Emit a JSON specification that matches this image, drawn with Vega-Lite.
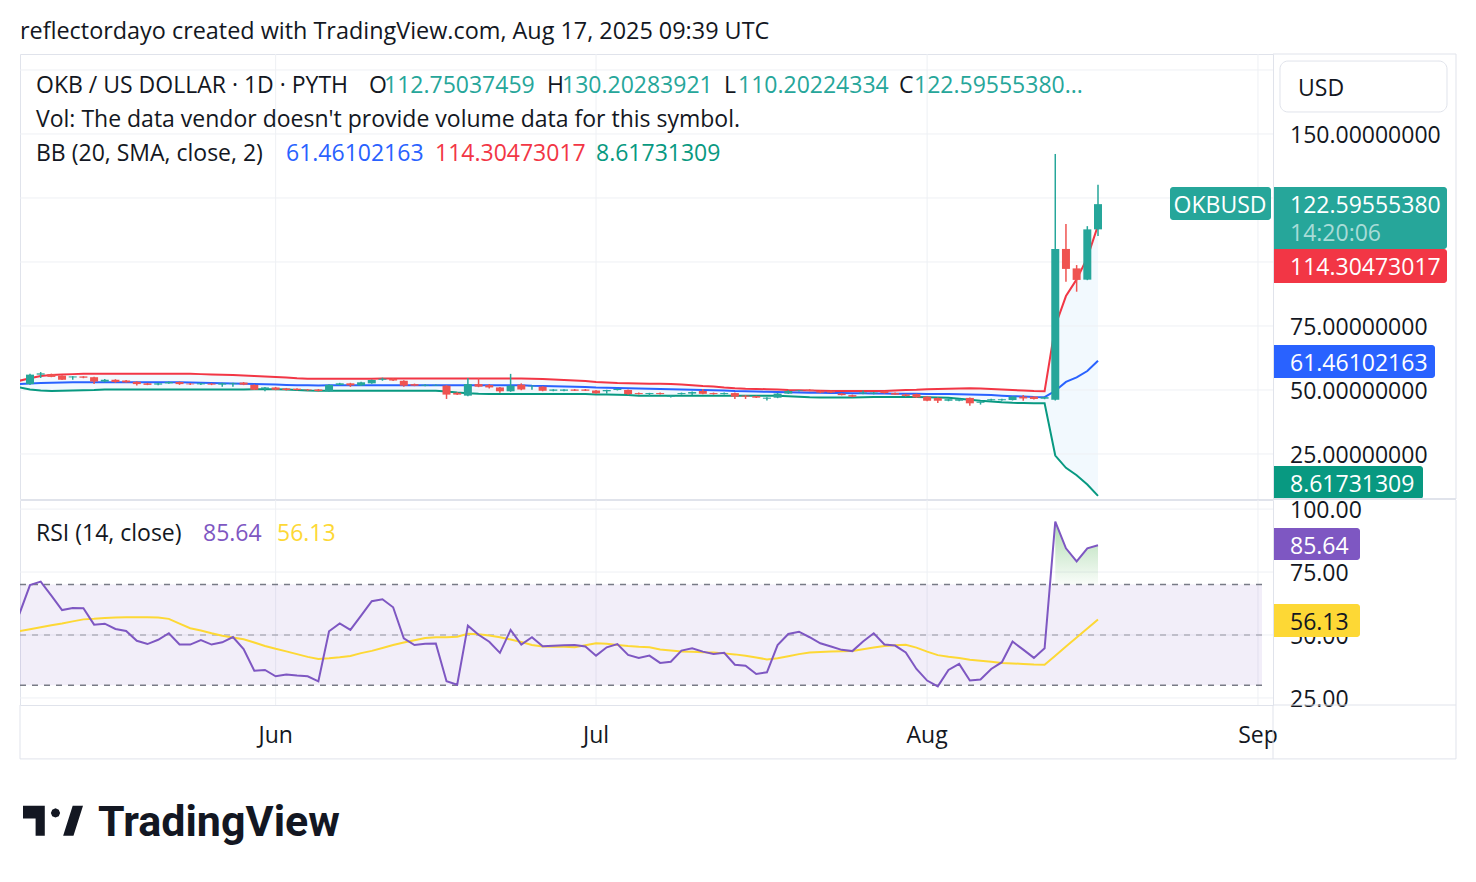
{
"$schema": "https://vega.github.io/schema/vega-lite/v6.json",
"background": "white",
"padding": {"left": 18, "top": 19, "right": 0, "bottom": 0},
"title": {"text": "reflectordayo created with TradingView.com, Aug 17, 2025 09:39 UTC", "anchor": "start", "frame": "group", "font": "Open Sans", "fontSize": 23.4, "fontWeight": "normal", "color": "#131722", "offset": 9},
"spacing": 1,
"bounds": "flush",
"config": {
  "view": {"stroke": "#e0e3eb", "strokeWidth": 1},
  "font": "Open Sans",
  "text": {"font": "Open Sans", "fontSize": 23, "dy": 2}
},
"datasets": {"d": [
{"date":"2025-05-08","up":53.6,"mid":52.3,"lo":51.0,"rsi":58.3,"ma":51.5},
{"date":"2025-05-09","o":52.3,"h":56.3,"l":52.0,"c":56.0,"up":54.6,"mid":52.5,"lo":50.2,"rsi":69.8,"ma":52.3},
{"date":"2025-05-10","o":56.0,"h":57.0,"l":54.7,"c":56.5,"up":55.5,"mid":52.7,"lo":49.8,"rsi":71.2,"ma":53.1},
{"date":"2025-05-11","o":56.2,"h":56.4,"l":55.0,"c":55.1,"up":55.9,"mid":52.8,"lo":49.6,"rsi":65.6,"ma":53.9},
{"date":"2025-05-12","o":55.6,"h":55.8,"l":53.9,"c":54.0,"up":56.1,"mid":52.9,"lo":49.7,"rsi":59.9,"ma":54.6},
{"date":"2025-05-13","o":54.9,"h":55.4,"l":54.0,"c":55.3,"up":56.2,"mid":53.0,"lo":49.8,"rsi":60.7,"ma":55.4},
{"date":"2025-05-14","o":55.3,"h":55.4,"l":54.6,"c":54.8,"up":56.3,"mid":53.0,"lo":49.9,"rsi":60.6,"ma":56.2},
{"date":"2025-05-15","o":55.0,"h":55.2,"l":52.3,"c":53.3,"up":56.3,"mid":53.0,"lo":50.0,"rsi":54.1,"ma":56.4},
{"date":"2025-05-16","o":53.3,"h":54.3,"l":53.0,"c":54.0,"up":56.3,"mid":53.0,"lo":50.2,"rsi":54.5,"ma":56.7},
{"date":"2025-05-17","o":54.0,"h":54.2,"l":52.8,"c":53.1,"up":56.3,"mid":53.0,"lo":50.2,"rsi":52.4,"ma":56.9},
{"date":"2025-05-18","o":53.7,"h":53.9,"l":52.8,"c":53.0,"up":56.3,"mid":53.0,"lo":50.2,"rsi":51.6,"ma":57.0},
{"date":"2025-05-19","o":53.2,"h":53.4,"l":51.8,"c":52.3,"up":56.3,"mid":53.0,"lo":50.2,"rsi":47.7,"ma":57.0},
{"date":"2025-05-20","o":52.6,"h":52.8,"l":51.9,"c":52.0,"up":56.3,"mid":53.0,"lo":50.2,"rsi":46.4,"ma":57.0},
{"date":"2025-05-21","o":52.1,"h":52.8,"l":51.9,"c":52.6,"up":56.3,"mid":53.0,"lo":50.2,"rsi":48.1,"ma":56.9},
{"date":"2025-05-22","o":52.6,"h":53.3,"l":52.4,"c":53.1,"up":56.3,"mid":53.0,"lo":50.2,"rsi":50.7,"ma":56.4},
{"date":"2025-05-23","o":53.1,"h":53.3,"l":52.0,"c":52.3,"up":56.3,"mid":53.0,"lo":50.2,"rsi":46.2,"ma":54.5},
{"date":"2025-05-24","o":52.5,"h":52.7,"l":52.0,"c":52.2,"up":56.3,"mid":52.9,"lo":50.2,"rsi":46.2,"ma":52.7},
{"date":"2025-05-25","o":52.2,"h":52.8,"l":52.0,"c":52.6,"up":56.2,"mid":52.8,"lo":50.2,"rsi":48.0,"ma":51.8},
{"date":"2025-05-26","o":52.5,"h":52.7,"l":51.9,"c":52.1,"up":56.1,"mid":52.7,"lo":50.2,"rsi":46.2,"ma":50.7},
{"date":"2025-05-27","o":52.1,"h":52.8,"l":51.3,"c":52.6,"up":56.0,"mid":52.6,"lo":50.2,"rsi":47.1,"ma":49.7},
{"date":"2025-05-28","o":52.3,"h":52.8,"l":51.3,"c":52.6,"up":55.9,"mid":52.5,"lo":50.2,"rsi":49.2,"ma":49.0},
{"date":"2025-05-29","o":52.9,"h":53.1,"l":51.9,"c":52.1,"up":55.7,"mid":52.4,"lo":50.2,"rsi":44.4,"ma":48.3},
{"date":"2025-05-30","o":52.0,"h":52.2,"l":50.0,"c":50.1,"up":55.5,"mid":52.3,"lo":50.3,"rsi":35.8,"ma":47.0},
{"date":"2025-05-31","o":50.4,"h":51.2,"l":49.5,"c":51.0,"up":55.3,"mid":52.2,"lo":50.3,"rsi":36.1,"ma":45.6},
{"date":"2025-06-01","o":51.0,"h":51.2,"l":49.9,"c":50.1,"up":55.1,"mid":52.1,"lo":50.3,"rsi":33.6,"ma":44.5},
{"date":"2025-06-02","o":50.6,"h":50.8,"l":49.8,"c":50.0,"up":54.9,"mid":52.0,"lo":50.2,"rsi":34.3,"ma":43.5},
{"date":"2025-06-03","o":50.5,"h":50.7,"l":49.8,"c":50.0,"up":54.6,"mid":51.9,"lo":50.0,"rsi":33.9,"ma":42.4},
{"date":"2025-06-04","o":50.2,"h":50.4,"l":49.7,"c":49.9,"up":54.4,"mid":51.9,"lo":49.8,"rsi":33.6,"ma":41.3},
{"date":"2025-06-05","o":50.2,"h":50.4,"l":49.4,"c":49.6,"up":54.4,"mid":51.8,"lo":49.7,"rsi":31.6,"ma":40.5},
{"date":"2025-06-06","o":49.5,"h":52.2,"l":49.3,"c":52.0,"up":54.4,"mid":51.9,"lo":49.7,"rsi":51.5,"ma":40.8},
{"date":"2025-06-07","o":52.0,"h":52.8,"l":51.8,"c":52.6,"up":54.4,"mid":51.9,"lo":49.7,"rsi":54.6,"ma":41.2},
{"date":"2025-06-08","o":52.6,"h":52.8,"l":51.2,"c":51.8,"up":54.4,"mid":51.9,"lo":49.7,"rsi":52.0,"ma":41.7},
{"date":"2025-06-09","o":51.8,"h":53.2,"l":51.6,"c":53.0,"up":54.4,"mid":51.9,"lo":49.7,"rsi":57.7,"ma":42.8},
{"date":"2025-06-10","o":52.6,"h":54.1,"l":52.4,"c":53.9,"up":54.4,"mid":51.9,"lo":49.7,"rsi":63.4,"ma":43.7},
{"date":"2025-06-11","o":54.0,"h":54.8,"l":53.6,"c":54.4,"up":54.5,"mid":51.9,"lo":49.7,"rsi":64.2,"ma":44.8},
{"date":"2025-06-12","o":54.4,"h":54.6,"l":53.5,"c":53.7,"up":54.5,"mid":51.9,"lo":49.7,"rsi":61.0,"ma":46.0},
{"date":"2025-06-13","o":53.6,"h":53.8,"l":51.3,"c":51.7,"up":54.5,"mid":51.9,"lo":49.7,"rsi":48.7,"ma":47.0},
{"date":"2025-06-14","o":52.3,"h":52.5,"l":51.5,"c":51.7,"up":54.5,"mid":51.9,"lo":49.7,"rsi":46.0,"ma":47.9},
{"date":"2025-06-15","o":51.7,"h":52.2,"l":51.5,"c":52.0,"up":54.5,"mid":51.9,"lo":49.7,"rsi":46.5,"ma":48.8},
{"date":"2025-06-16","o":51.8,"h":52.1,"l":51.6,"c":52.0,"up":54.5,"mid":51.9,"lo":49.7,"rsi":46.6,"ma":49.1},
{"date":"2025-06-17","o":51.7,"h":51.9,"l":46.5,"c":48.2,"up":54.5,"mid":51.9,"lo":49.4,"rsi":31.6,"ma":49.1},
{"date":"2025-06-18","o":48.9,"h":49.1,"l":48.0,"c":48.2,"up":54.5,"mid":51.9,"lo":49.0,"rsi":30.3,"ma":49.3},
{"date":"2025-06-19","o":47.8,"h":54.7,"l":47.6,"c":52.3,"up":54.5,"mid":51.9,"lo":48.7,"rsi":53.7,"ma":50.5},
{"date":"2025-06-20","o":52.3,"h":54.7,"l":51.1,"c":51.3,"up":54.5,"mid":51.9,"lo":48.5,"rsi":50.1,"ma":50.3},
{"date":"2025-06-21","o":51.9,"h":52.3,"l":50.6,"c":51.0,"up":54.5,"mid":51.9,"lo":48.4,"rsi":47.3,"ma":49.8},
{"date":"2025-06-22","o":51.0,"h":51.2,"l":48.9,"c":49.5,"up":54.5,"mid":51.9,"lo":48.4,"rsi":42.9,"ma":49.1},
{"date":"2025-06-23","o":49.5,"h":56.3,"l":49.3,"c":51.7,"up":54.5,"mid":51.9,"lo":48.4,"rsi":52.0,"ma":48.2},
{"date":"2025-06-24","o":52.1,"h":52.6,"l":49.9,"c":50.2,"up":54.5,"mid":51.9,"lo":48.4,"rsi":46.2,"ma":47.2},
{"date":"2025-06-25","o":51.5,"h":51.8,"l":50.1,"c":51.7,"up":54.4,"mid":51.7,"lo":48.4,"rsi":49.1,"ma":46.0},
{"date":"2025-06-26","o":51.3,"h":51.5,"l":49.5,"c":49.7,"up":54.3,"mid":51.6,"lo":48.4,"rsi":45.5,"ma":45.4},
{"date":"2025-06-27","o":49.7,"h":50.3,"l":49.5,"c":50.2,"up":54.1,"mid":51.5,"lo":48.4,"rsi":45.7,"ma":45.3},
{"date":"2025-06-28","o":49.7,"h":50.3,"l":49.5,"c":50.2,"up":53.9,"mid":51.4,"lo":48.4,"rsi":45.9,"ma":45.3},
{"date":"2025-06-29","o":50.2,"h":50.4,"l":49.6,"c":49.7,"up":53.7,"mid":51.3,"lo":48.4,"rsi":46.0,"ma":45.1},
{"date":"2025-06-30","o":50.2,"h":50.4,"l":49.6,"c":49.7,"up":53.5,"mid":51.2,"lo":48.4,"rsi":45.4,"ma":45.9},
{"date":"2025-07-01","o":49.8,"h":50.0,"l":48.5,"c":48.7,"up":53.1,"mid":51.0,"lo":48.2,"rsi":41.8,"ma":46.7},
{"date":"2025-07-02","o":49.5,"h":50.1,"l":48.6,"c":50.0,"up":52.9,"mid":50.9,"lo":48.2,"rsi":45.1,"ma":46.5},
{"date":"2025-07-03","o":50.0,"h":50.6,"l":49.8,"c":50.4,"up":52.7,"mid":50.8,"lo":48.1,"rsi":46.4,"ma":46.0},
{"date":"2025-07-04","o":50.0,"h":50.2,"l":48.1,"c":48.4,"up":52.6,"mid":50.7,"lo":48.0,"rsi":42.1,"ma":45.6},
{"date":"2025-07-05","o":48.8,"h":49.0,"l":48.2,"c":48.4,"up":52.5,"mid":50.6,"lo":47.8,"rsi":40.9,"ma":45.3},
{"date":"2025-07-06","o":48.4,"h":48.9,"l":47.6,"c":48.8,"up":52.4,"mid":50.5,"lo":47.8,"rsi":41.8,"ma":45.1},
{"date":"2025-07-07","o":48.8,"h":49.0,"l":48.2,"c":48.4,"up":52.4,"mid":50.4,"lo":47.8,"rsi":38.9,"ma":44.2},
{"date":"2025-07-08","o":47.3,"h":47.9,"l":47.1,"c":47.8,"up":52.3,"mid":50.3,"lo":47.8,"rsi":39.4,"ma":43.8},
{"date":"2025-07-09","o":48.4,"h":49.0,"l":48.2,"c":48.8,"up":52.1,"mid":50.2,"lo":47.8,"rsi":43.8,"ma":43.4},
{"date":"2025-07-10","o":48.6,"h":49.4,"l":48.0,"c":49.2,"up":51.9,"mid":50.1,"lo":47.8,"rsi":44.7,"ma":43.3},
{"date":"2025-07-11","o":49.6,"h":50.4,"l":48.3,"c":48.5,"up":51.6,"mid":50.0,"lo":47.8,"rsi":43.4,"ma":43.1},
{"date":"2025-07-12","o":48.8,"h":49.0,"l":48.2,"c":48.4,"up":51.4,"mid":49.9,"lo":47.8,"rsi":42.5,"ma":43.0},
{"date":"2025-07-13","o":48.4,"h":49.0,"l":48.2,"c":48.8,"up":51.0,"mid":49.8,"lo":47.8,"rsi":42.9,"ma":42.7},
{"date":"2025-07-14","o":48.8,"h":49.0,"l":46.5,"c":47.4,"up":50.7,"mid":49.6,"lo":47.8,"rsi":38.2,"ma":42.3},
{"date":"2025-07-15","o":47.8,"h":48.0,"l":46.5,"c":47.4,"up":50.5,"mid":49.5,"lo":47.8,"rsi":37.8,"ma":41.8},
{"date":"2025-07-16","o":47.6,"h":47.8,"l":46.9,"c":47.0,"up":50.4,"mid":49.4,"lo":47.8,"rsi":34.5,"ma":41.1},
{"date":"2025-07-17","o":46.6,"h":47.2,"l":45.9,"c":47.0,"up":50.3,"mid":49.3,"lo":47.8,"rsi":35.2,"ma":40.3},
{"date":"2025-07-18","o":47.0,"h":48.8,"l":46.8,"c":48.6,"up":50.2,"mid":49.2,"lo":47.8,"rsi":46.0,"ma":40.8},
{"date":"2025-07-19","o":48.6,"h":49.9,"l":48.5,"c":49.6,"up":50.0,"mid":49.1,"lo":47.6,"rsi":50.4,"ma":41.6},
{"date":"2025-07-20","o":49.6,"h":50.0,"l":49.4,"c":49.8,"up":49.9,"mid":49.0,"lo":47.4,"rsi":51.3,"ma":42.4},
{"date":"2025-07-21","o":50.1,"h":50.3,"l":49.5,"c":49.6,"up":49.8,"mid":48.9,"lo":47.2,"rsi":49.1,"ma":43.0},
{"date":"2025-07-22","o":49.6,"h":49.8,"l":48.8,"c":49.0,"up":49.7,"mid":48.9,"lo":47.1,"rsi":46.7,"ma":43.2},
{"date":"2025-07-23","o":49.6,"h":49.8,"l":48.8,"c":49.0,"up":49.6,"mid":48.8,"lo":47.1,"rsi":45.4,"ma":43.4},
{"date":"2025-07-24","o":48.6,"h":48.8,"l":47.9,"c":48.0,"up":49.6,"mid":48.8,"lo":47.1,"rsi":44.1,"ma":43.5},
{"date":"2025-07-25","o":48.0,"h":48.2,"l":47.2,"c":47.4,"up":49.6,"mid":48.7,"lo":47.1,"rsi":43.6,"ma":43.6},
{"date":"2025-07-26","o":48.6,"h":49.8,"l":48.3,"c":49.0,"up":49.6,"mid":48.7,"lo":47.2,"rsi":47.4,"ma":44.3},
{"date":"2025-07-27","o":48.6,"h":49.2,"l":48.3,"c":49.0,"up":49.6,"mid":48.6,"lo":47.3,"rsi":50.7,"ma":45.0},
{"date":"2025-07-28","o":49.5,"h":49.7,"l":48.6,"c":48.8,"up":49.6,"mid":48.6,"lo":47.3,"rsi":46.2,"ma":45.6},
{"date":"2025-07-29","o":48.8,"h":49.0,"l":48.0,"c":48.2,"up":49.8,"mid":48.5,"lo":47.3,"rsi":45.8,"ma":45.9},
{"date":"2025-07-30","o":48.3,"h":48.5,"l":47.5,"c":47.7,"up":50.0,"mid":48.5,"lo":47.3,"rsi":43.1,"ma":46.1},
{"date":"2025-07-31","o":48.4,"h":48.6,"l":46.9,"c":47.1,"up":50.1,"mid":48.5,"lo":47.3,"rsi":36.5,"ma":45.0},
{"date":"2025-08-01","o":47.4,"h":47.6,"l":45.6,"c":45.8,"up":50.3,"mid":48.4,"lo":47.2,"rsi":31.9,"ma":43.4},
{"date":"2025-08-02","o":46.9,"h":47.1,"l":44.9,"c":45.8,"up":50.4,"mid":48.4,"lo":47.1,"rsi":29.6,"ma":42.0},
{"date":"2025-08-03","o":45.8,"h":46.6,"l":45.6,"c":46.4,"up":50.5,"mid":48.4,"lo":47.0,"rsi":36.1,"ma":41.4},
{"date":"2025-08-04","o":45.8,"h":46.6,"l":45.6,"c":46.4,"up":50.6,"mid":48.3,"lo":46.6,"rsi":38.5,"ma":40.9},
{"date":"2025-08-05","o":46.9,"h":47.1,"l":43.8,"c":44.8,"up":50.7,"mid":48.2,"lo":46.2,"rsi":31.9,"ma":40.2},
{"date":"2025-08-06","o":45.0,"h":45.5,"l":44.3,"c":45.4,"up":50.6,"mid":48.1,"lo":45.8,"rsi":32.3,"ma":39.8},
{"date":"2025-08-07","o":46.0,"h":46.6,"l":45.8,"c":46.4,"up":50.4,"mid":48.0,"lo":45.5,"rsi":36.5,"ma":39.4},
{"date":"2025-08-08","o":46.0,"h":46.6,"l":45.8,"c":46.4,"up":50.2,"mid":47.8,"lo":45.2,"rsi":39.2,"ma":38.9},
{"date":"2025-08-09","o":46.1,"h":47.6,"l":45.9,"c":47.4,"up":50.0,"mid":47.6,"lo":45.0,"rsi":47.4,"ma":38.7},
{"date":"2025-08-10","o":47.4,"h":48.0,"l":45.8,"c":46.7,"up":49.8,"mid":47.5,"lo":44.9,"rsi":44.2,"ma":38.5},
{"date":"2025-08-11","o":47.4,"h":47.6,"l":46.3,"c":46.5,"up":49.6,"mid":47.3,"lo":44.8,"rsi":40.9,"ma":38.3},
{"date":"2025-08-12","o":46.6,"h":47.4,"l":46.4,"c":47.2,"up":49.5,"mid":47.2,"lo":44.8,"rsi":44.7,"ma":38.2},
{"date":"2025-08-13","o":46.2,"h":142.2,"l":45.9,"c":105.1,"up":75.0,"mid":49.7,"lo":24.4,"rsi":95.0,"ma":41.8},
{"date":"2025-08-14","o":105.1,"h":114.8,"l":92.3,"c":97.3,"up":86.7,"mid":53.15,"lo":19.6,"rsi":84.4,"ma":45.4},
{"date":"2025-08-15","o":97.5,"h":98.8,"l":88.4,"c":93.0,"up":93.2,"mid":54.95,"lo":16.7,"rsi":79.2,"ma":49.0},
{"date":"2025-08-16","o":93.1,"h":114.0,"l":92.9,"c":112.75,"up":101.7,"mid":57.4,"lo":13.1,"rsi":84.4,"ma":52.6},
{"date":"2025-08-17","o":112.75,"h":130.2,"l":110.2,"c":122.6,"up":114.3,"mid":61.46,"lo":8.617,"rsi":85.64,"ma":56.13}
]},
"vconcat": [
{
  "width": 1253, "height": 445,
  "data": {"name": "d"},
  "layer": [
    {"mark": {"type": "area", "color": "#2196f3", "opacity": 0.06, "clip": true},
     "encoding": {
       "x": {"field": "date", "type": "temporal", "scale": {"type": "utc", "padding": 0, "domain": [{"year":2025,"month":5,"date":8,"hours":1,"minutes":31,"utc":true},{"year":2025,"month":9,"date":2,"hours":9,"minutes":16,"utc":true}]}, "axis": null},
       "y": {"field": "up", "type": "quantitative", "scale": {"domain": [7.42, 181.25], "nice": false, "zero": false, "padding": 0}, "axis": null},
       "y2": {"field": "lo"}}},
    {"data": {"values": [{"v": 25}, {"v": 50}, {"v": 75}, {"v": 100}, {"v": 125}, {"v": 150}, {"v": 175}]},
     "mark": {"type": "rule", "color": "#eef0f4", "strokeWidth": 1},
     "encoding": {"y": {"field": "v", "type": "quantitative", "axis": null}}},
    {"transform": [{"filter": "utcdate(datum.date) == 1 && utcmonth(datum.date) >= 5"}],
     "mark": {"type": "rule", "color": "#eef0f4", "strokeWidth": 1},
     "encoding": {"x": {"field": "date", "type": "temporal", "axis": null}}},
    {"transform": [{"filter": "utcmonth(datum.date) == 7 && utcdate(datum.date) == 17"}],
     "mark": {"type": "rule", "color": "#eef0f4", "strokeWidth": 1, "xOffset": 160},
     "encoding": {"x": {"field": "date", "type": "temporal", "axis": null}}},
    {"mark": {"type": "line", "color": "#f23645", "strokeWidth": 2, "clip": true}, "encoding": {"x": {"field": "date", "type": "temporal", "axis": null}, "y": {"field": "up", "type": "quantitative", "axis": null}}},
    {"mark": {"type": "line", "color": "#2962ff", "strokeWidth": 2, "clip": true}, "encoding": {"x": {"field": "date", "type": "temporal", "axis": null}, "y": {"field": "mid", "type": "quantitative", "axis": null}}},
    {"mark": {"type": "line", "color": "#089981", "strokeWidth": 2, "clip": true}, "encoding": {"x": {"field": "date", "type": "temporal", "axis": null}, "y": {"field": "lo", "type": "quantitative", "axis": null}}},
    {"transform": [{"filter": "isValid(datum.o)"}],
     "mark": {"type": "rule", "strokeWidth": 1.5, "clip": true},
     "encoding": {"x": {"field": "date", "type": "temporal", "axis": null}, "y": {"field": "l", "type": "quantitative", "axis": null}, "y2": {"field": "h"}, "color": {"condition": {"test": "datum.c >= datum.o", "value": "#26a69a"}, "value": "#ef5350"}}},
    {"transform": [{"filter": "isValid(datum.o)"}],
     "mark": {"type": "bar", "width": 8, "clip": true},
     "encoding": {"x": {"field": "date", "type": "temporal", "axis": null}, "y": {"field": "o", "type": "quantitative", "axis": null}, "y2": {"field": "c"}, "color": {"condition": {"test": "datum.c >= datum.o", "value": "#26a69a"}, "value": "#ef5350"}}},

    {"transform": [{"filter": "utcmonth(datum.date) == 4 && utcdate(datum.date) == 9"}],
     "mark": {"type": "text", "text": "OKB / US DOLLAR · 1D · PYTH", "dx": 6, "align": "left", "baseline": "middle", "color": "#131722"},
     "encoding": {"x": {"field": "date", "type": "temporal", "axis": null}, "y": {"datum": 169.5, "type": "quantitative", "axis": null}}},
    {"transform": [{"filter": "utcmonth(datum.date) == 4 && utcdate(datum.date) == 9"}],
     "mark": {"type": "text", "text": "O", "dx": 339, "align": "left", "baseline": "middle", "color": "#131722"},
     "encoding": {"x": {"field": "date", "type": "temporal", "axis": null}, "y": {"datum": 169.5, "type": "quantitative", "axis": null}}},
    {"transform": [{"filter": "utcmonth(datum.date) == 4 && utcdate(datum.date) == 9"}],
     "mark": {"type": "text", "text": "112.75037459", "dx": 354, "align": "left", "baseline": "middle", "color": "#26a69a"},
     "encoding": {"x": {"field": "date", "type": "temporal", "axis": null}, "y": {"datum": 169.5, "type": "quantitative", "axis": null}}},
    {"transform": [{"filter": "utcmonth(datum.date) == 4 && utcdate(datum.date) == 9"}],
     "mark": {"type": "text", "text": "H", "dx": 517, "align": "left", "baseline": "middle", "color": "#131722"},
     "encoding": {"x": {"field": "date", "type": "temporal", "axis": null}, "y": {"datum": 169.5, "type": "quantitative", "axis": null}}},
    {"transform": [{"filter": "utcmonth(datum.date) == 4 && utcdate(datum.date) == 9"}],
     "mark": {"type": "text", "text": "130.20283921", "dx": 532, "align": "left", "baseline": "middle", "color": "#26a69a"},
     "encoding": {"x": {"field": "date", "type": "temporal", "axis": null}, "y": {"datum": 169.5, "type": "quantitative", "axis": null}}},
    {"transform": [{"filter": "utcmonth(datum.date) == 4 && utcdate(datum.date) == 9"}],
     "mark": {"type": "text", "text": "L", "dx": 694, "align": "left", "baseline": "middle", "color": "#131722"},
     "encoding": {"x": {"field": "date", "type": "temporal", "axis": null}, "y": {"datum": 169.5, "type": "quantitative", "axis": null}}},
    {"transform": [{"filter": "utcmonth(datum.date) == 4 && utcdate(datum.date) == 9"}],
     "mark": {"type": "text", "text": "110.20224334", "dx": 708, "align": "left", "baseline": "middle", "color": "#26a69a"},
     "encoding": {"x": {"field": "date", "type": "temporal", "axis": null}, "y": {"datum": 169.5, "type": "quantitative", "axis": null}}},
    {"transform": [{"filter": "utcmonth(datum.date) == 4 && utcdate(datum.date) == 9"}],
     "mark": {"type": "text", "text": "C", "dx": 869, "align": "left", "baseline": "middle", "color": "#131722"},
     "encoding": {"x": {"field": "date", "type": "temporal", "axis": null}, "y": {"datum": 169.5, "type": "quantitative", "axis": null}}},
    {"transform": [{"filter": "utcmonth(datum.date) == 4 && utcdate(datum.date) == 9"}],
     "mark": {"type": "text", "text": "122.59555380...", "dx": 884, "align": "left", "baseline": "middle", "color": "#26a69a"},
     "encoding": {"x": {"field": "date", "type": "temporal", "axis": null}, "y": {"datum": 169.5, "type": "quantitative", "axis": null}}},
    {"transform": [{"filter": "utcmonth(datum.date) == 4 && utcdate(datum.date) == 9"}],
     "mark": {"type": "text", "text": "Vol: The data vendor doesn't provide volume data for this symbol.", "dx": 6, "align": "left", "baseline": "middle", "color": "#131722"},
     "encoding": {"x": {"field": "date", "type": "temporal", "axis": null}, "y": {"datum": 156.25, "type": "quantitative", "axis": null}}},
    {"transform": [{"filter": "utcmonth(datum.date) == 4 && utcdate(datum.date) == 9"}],
     "mark": {"type": "text", "text": "BB (20, SMA, close, 2)", "dx": 6, "align": "left", "baseline": "middle", "color": "#131722"},
     "encoding": {"x": {"field": "date", "type": "temporal", "axis": null}, "y": {"datum": 142.97, "type": "quantitative", "axis": null}}},
    {"transform": [{"filter": "utcmonth(datum.date) == 4 && utcdate(datum.date) == 9"}],
     "mark": {"type": "text", "text": "61.46102163", "dx": 256, "align": "left", "baseline": "middle", "color": "#2962ff"},
     "encoding": {"x": {"field": "date", "type": "temporal", "axis": null}, "y": {"datum": 142.97, "type": "quantitative", "axis": null}}},
    {"transform": [{"filter": "utcmonth(datum.date) == 4 && utcdate(datum.date) == 9"}],
     "mark": {"type": "text", "text": "114.30473017", "dx": 405, "align": "left", "baseline": "middle", "color": "#f23645"},
     "encoding": {"x": {"field": "date", "type": "temporal", "axis": null}, "y": {"datum": 142.97, "type": "quantitative", "axis": null}}},
    {"transform": [{"filter": "utcmonth(datum.date) == 4 && utcdate(datum.date) == 9"}],
     "mark": {"type": "text", "text": "8.61731309", "dx": 566, "align": "left", "baseline": "middle", "color": "#089981"},
     "encoding": {"x": {"field": "date", "type": "temporal", "axis": null}, "y": {"datum": 142.97, "type": "quantitative", "axis": null}}},

    {"transform": [{"filter": "utcmonth(datum.date) == 7 && utcdate(datum.date) == 17"}],
     "mark": {"type": "text", "text": "150.00000000", "dx": 192, "align": "left", "baseline": "middle", "color": "#131722"},
     "encoding": {"x": {"field": "date", "type": "temporal", "axis": null}, "y": {"datum": 150, "type": "quantitative", "axis": null}}},
    {"transform": [{"filter": "utcmonth(datum.date) == 7 && utcdate(datum.date) == 17"}],
     "mark": {"type": "text", "text": "75.00000000", "dx": 192, "align": "left", "baseline": "middle", "color": "#131722"},
     "encoding": {"x": {"field": "date", "type": "temporal", "axis": null}, "y": {"datum": 75, "type": "quantitative", "axis": null}}},
    {"transform": [{"filter": "utcmonth(datum.date) == 7 && utcdate(datum.date) == 17"}],
     "mark": {"type": "text", "text": "50.00000000", "dx": 192, "align": "left", "baseline": "middle", "color": "#131722"},
     "encoding": {"x": {"field": "date", "type": "temporal", "axis": null}, "y": {"datum": 50, "type": "quantitative", "axis": null}}},
    {"transform": [{"filter": "utcmonth(datum.date) == 7 && utcdate(datum.date) == 17"}],
     "mark": {"type": "text", "text": "25.00000000", "dx": 192, "align": "left", "baseline": "middle", "color": "#131722"},
     "encoding": {"x": {"field": "date", "type": "temporal", "axis": null}, "y": {"datum": 25, "type": "quantitative", "axis": null}}},

    {"transform": [{"filter": "utcmonth(datum.date) == 7 && utcdate(datum.date) == 17"}],
     "mark": {"type": "rect", "fill": "white", "stroke": "#e0e3eb", "strokeWidth": 1, "cornerRadius": 8, "xOffset": 182, "x2Offset": 349},
     "encoding": {"x": {"field": "date", "type": "temporal", "axis": null}, "x2": {"field": "date"}, "y": {"datum": 178.5, "type": "quantitative", "axis": null}, "y2": {"datum": 158.6}}},
    {"transform": [{"filter": "utcmonth(datum.date) == 7 && utcdate(datum.date) == 17"}],
     "mark": {"type": "text", "text": "USD", "dx": 200, "align": "left", "baseline": "middle", "color": "#131722"},
     "encoding": {"x": {"field": "date", "type": "temporal", "axis": null}, "y": {"datum": 168.4, "type": "quantitative", "axis": null}}},
    {"transform": [{"filter": "utcmonth(datum.date) == 7 && utcdate(datum.date) == 17"}],
     "mark": {"type": "rect", "fill": "#26a69a", "cornerRadius": 3, "xOffset": 72, "x2Offset": 173},
     "encoding": {"x": {"field": "date", "type": "temporal", "axis": null}, "x2": {"field": "date"}, "y": {"datum": 129.3, "type": "quantitative", "axis": null}, "y2": {"datum": 116.4}}},
    {"transform": [{"filter": "utcmonth(datum.date) == 7 && utcdate(datum.date) == 17"}],
     "mark": {"type": "text", "text": "OKBUSD", "dx": 122, "align": "center", "baseline": "middle", "color": "white"},
     "encoding": {"x": {"field": "date", "type": "temporal", "axis": null}, "y": {"datum": 122.66, "type": "quantitative", "axis": null}}},
    {"transform": [{"filter": "utcmonth(datum.date) == 7 && utcdate(datum.date) == 17"}],
     "mark": {"type": "rect", "fill": "#26a69a", "cornerRadiusTopRight": 3, "cornerRadiusBottomRight": 3, "xOffset": 176, "x2Offset": 349},
     "encoding": {"x": {"field": "date", "type": "temporal", "axis": null}, "x2": {"field": "date"}, "y": {"datum": 129.3, "type": "quantitative", "axis": null}, "y2": {"datum": 105.1}}},
    {"transform": [{"filter": "utcmonth(datum.date) == 7 && utcdate(datum.date) == 17"}],
     "mark": {"type": "rect", "fill": "#f23645", "cornerRadiusTopRight": 3, "cornerRadiusBottomRight": 3, "xOffset": 176, "x2Offset": 349},
     "encoding": {"x": {"field": "date", "type": "temporal", "axis": null}, "x2": {"field": "date"}, "y": {"datum": 105.1, "type": "quantitative", "axis": null}, "y2": {"datum": 91.8}}},
    {"transform": [{"filter": "utcmonth(datum.date) == 7 && utcdate(datum.date) == 17"}],
     "mark": {"type": "rect", "fill": "#2962ff", "cornerRadiusTopRight": 3, "cornerRadiusBottomRight": 3, "xOffset": 176, "x2Offset": 337},
     "encoding": {"x": {"field": "date", "type": "temporal", "axis": null}, "x2": {"field": "date"}, "y": {"datum": 67.6, "type": "quantitative", "axis": null}, "y2": {"datum": 54.7}}},
    {"transform": [{"filter": "utcmonth(datum.date) == 7 && utcdate(datum.date) == 17"}],
     "mark": {"type": "rect", "fill": "#089981", "cornerRadiusTopRight": 3, "cornerRadiusBottomRight": 3, "xOffset": 176, "x2Offset": 325},
     "encoding": {"x": {"field": "date", "type": "temporal", "axis": null}, "x2": {"field": "date"}, "y": {"datum": 20.3, "type": "quantitative", "axis": null}, "y2": {"datum": 7.42}}},
    {"transform": [{"filter": "utcmonth(datum.date) == 7 && utcdate(datum.date) == 17"}],
     "mark": {"type": "text", "text": "122.59555380", "dx": 192, "align": "left", "baseline": "middle", "color": "white"},
     "encoding": {"x": {"field": "date", "type": "temporal", "axis": null}, "y": {"datum": 122.66, "type": "quantitative", "axis": null}}},
    {"transform": [{"filter": "utcmonth(datum.date) == 7 && utcdate(datum.date) == 17"}],
     "mark": {"type": "text", "text": "14:20:06", "dx": 192, "align": "left", "baseline": "middle", "color": "#a8dcd7"},
     "encoding": {"x": {"field": "date", "type": "temporal", "axis": null}, "y": {"datum": 111.7, "type": "quantitative", "axis": null}}},
    {"transform": [{"filter": "utcmonth(datum.date) == 7 && utcdate(datum.date) == 17"}],
     "mark": {"type": "text", "text": "114.30473017", "dx": 192, "align": "left", "baseline": "middle", "color": "white"},
     "encoding": {"x": {"field": "date", "type": "temporal", "axis": null}, "y": {"datum": 98.4, "type": "quantitative", "axis": null}}},
    {"transform": [{"filter": "utcmonth(datum.date) == 7 && utcdate(datum.date) == 17"}],
     "mark": {"type": "text", "text": "61.46102163", "dx": 192, "align": "left", "baseline": "middle", "color": "white"},
     "encoding": {"x": {"field": "date", "type": "temporal", "axis": null}, "y": {"datum": 60.9, "type": "quantitative", "axis": null}}},
    {"transform": [{"filter": "utcmonth(datum.date) == 7 && utcdate(datum.date) == 17"}],
     "mark": {"type": "text", "text": "8.61731309", "dx": 192, "align": "left", "baseline": "middle", "color": "white"},
     "encoding": {"x": {"field": "date", "type": "temporal", "axis": null}, "y": {"datum": 13.7, "type": "quantitative", "axis": null}}},
    {"transform": [{"filter": "utcmonth(datum.date) == 7 && utcdate(datum.date) == 17"}],
     "mark": {"type": "rule", "color": "#e0e3eb", "strokeWidth": 1, "xOffset": 175, "x2Offset": 358},
     "encoding": {"x": {"field": "date", "type": "temporal", "axis": null}, "x2": {"field": "date"}, "y": {"datum": 181.25, "type": "quantitative", "axis": null}}},
    {"transform": [{"filter": "utcmonth(datum.date) == 7 && utcdate(datum.date) == 17"}],
     "mark": {"type": "rule", "color": "#e0e3eb", "strokeWidth": 2, "xOffset": 175, "x2Offset": 358},
     "encoding": {"x": {"field": "date", "type": "temporal", "axis": null}, "x2": {"field": "date"}, "y": {"datum": 7.42, "type": "quantitative", "axis": null}}},
    {"transform": [{"filter": "utcmonth(datum.date) == 7 && utcdate(datum.date) == 17"}],
     "mark": {"type": "rule", "color": "#e0e3eb", "strokeWidth": 1, "xOffset": 358},
     "encoding": {"x": {"field": "date", "type": "temporal", "axis": null}, "y": {"datum": 181.25, "type": "quantitative", "axis": null}, "y2": {"datum": 7.42}}}
  ]
},
{
  "width": 1253, "height": 205,
  "data": {"name": "d"},
  "layer": [
    {"data": {"values": [{"v": 25}, {"v": 50}, {"v": 75}, {"v": 100}]},
     "mark": {"type": "rule", "color": "#eef0f4", "strokeWidth": 1},
     "encoding": {"y": {"field": "v", "type": "quantitative", "scale": {"domain": [22.2, 103.6], "nice": false, "zero": false}, "axis": null}}},
    {"transform": [{"filter": "utcdate(datum.date) == 1 && utcmonth(datum.date) >= 5"}],
     "mark": {"type": "rule", "color": "#eef0f4", "strokeWidth": 1},
     "encoding": {"x": {"field": "date", "type": "temporal", "scale": {"type": "utc", "padding": 0, "domain": [{"year":2025,"month":5,"date":8,"hours":1,"minutes":31,"utc":true},{"year":2025,"month":9,"date":2,"hours":9,"minutes":16,"utc":true}]}, "axis": null}}},
    {"transform": [{"filter": "utcmonth(datum.date) == 7 && utcdate(datum.date) == 17"}],
     "mark": {"type": "rule", "color": "#eef0f4", "strokeWidth": 1, "xOffset": 160},
     "encoding": {"x": {"field": "date", "type": "temporal", "axis": null}}},
    {"transform": [{"filter": "utcmonth(datum.date) == 4 && utcdate(datum.date) == 9"}],
     "mark": {"type": "rect", "fill": "#7e57c2", "opacity": 0.1, "xOffset": -10, "x2Offset": 1232},
     "encoding": {"x": {"field": "date", "type": "temporal", "axis": null}, "x2": {"field": "date"}, "y": {"datum": 70, "type": "quantitative", "axis": null}, "y2": {"datum": 30}}},
    {"transform": [{"filter": "utcmonth(datum.date) == 4 && utcdate(datum.date) == 9"}],
     "mark": {"type": "rule", "color": "#787b86", "strokeWidth": 1.5, "strokeDash": [6, 6], "xOffset": -10, "x2Offset": 1232},
     "encoding": {"x": {"field": "date", "type": "temporal", "axis": null}, "x2": {"field": "date"}, "y": {"datum": 70, "type": "quantitative", "axis": null}}},
    {"transform": [{"filter": "utcmonth(datum.date) == 4 && utcdate(datum.date) == 9"}],
     "mark": {"type": "rule", "color": "#787b86", "strokeWidth": 1.5, "strokeDash": [6, 6], "opacity": 0.5, "xOffset": -10, "x2Offset": 1232},
     "encoding": {"x": {"field": "date", "type": "temporal", "axis": null}, "x2": {"field": "date"}, "y": {"datum": 50, "type": "quantitative", "axis": null}}},
    {"transform": [{"filter": "utcmonth(datum.date) == 4 && utcdate(datum.date) == 9"}],
     "mark": {"type": "rule", "color": "#787b86", "strokeWidth": 1.5, "strokeDash": [6, 6], "xOffset": -10, "x2Offset": 1232},
     "encoding": {"x": {"field": "date", "type": "temporal", "axis": null}, "x2": {"field": "date"}, "y": {"datum": 30, "type": "quantitative", "axis": null}}},
    {"transform": [{"filter": {"and": [{"field": "rsi", "gte": 70}, {"field": "date", "gte": {"year":2025,"month":8,"date":13,"utc":true}}]}}],
     "mark": {"type": "area", "clip": true, "fill": {"gradient": "linear", "x1": 0, "y1": 0, "x2": 0, "y2": 1, "stops": [{"offset": 0, "color": "rgba(76,175,80,0.45)"}, {"offset": 1, "color": "rgba(76,175,80,0.03)"}]}},
     "encoding": {"x": {"field": "date", "type": "temporal", "axis": null}, "y": {"field": "rsi", "type": "quantitative", "axis": null}, "y2": {"datum": 70}}},
    {"mark": {"type": "line", "color": "#fdd835", "strokeWidth": 2, "clip": true},
     "encoding": {"x": {"field": "date", "type": "temporal", "axis": null}, "y": {"field": "ma", "type": "quantitative", "axis": null}}},
    {"mark": {"type": "line", "color": "#7e57c2", "strokeWidth": 2, "clip": true},
     "encoding": {"x": {"field": "date", "type": "temporal", "axis": null}, "y": {"field": "rsi", "type": "quantitative", "axis": null}}},

    {"transform": [{"filter": "utcmonth(datum.date) == 4 && utcdate(datum.date) == 9"}],
     "mark": {"type": "text", "text": "RSI (14, close)", "dx": 6, "align": "left", "baseline": "middle", "color": "#131722"},
     "encoding": {"x": {"field": "date", "type": "temporal", "axis": null}, "y": {"datum": 90.87, "type": "quantitative", "axis": null}}},
    {"transform": [{"filter": "utcmonth(datum.date) == 4 && utcdate(datum.date) == 9"}],
     "mark": {"type": "text", "text": "85.64", "dx": 173, "align": "left", "baseline": "middle", "color": "#7e57c2"},
     "encoding": {"x": {"field": "date", "type": "temporal", "axis": null}, "y": {"datum": 90.87, "type": "quantitative", "axis": null}}},
    {"transform": [{"filter": "utcmonth(datum.date) == 4 && utcdate(datum.date) == 9"}],
     "mark": {"type": "text", "text": "56.13", "dx": 247, "align": "left", "baseline": "middle", "color": "#fdd835"},
     "encoding": {"x": {"field": "date", "type": "temporal", "axis": null}, "y": {"datum": 90.87, "type": "quantitative", "axis": null}}},

    {"transform": [{"filter": "utcmonth(datum.date) == 7 && utcdate(datum.date) == 17"}],
     "mark": {"type": "text", "text": "100.00", "dx": 192, "align": "left", "baseline": "middle", "color": "#131722"},
     "encoding": {"x": {"field": "date", "type": "temporal", "axis": null}, "y": {"datum": 100, "type": "quantitative", "axis": null}}},
    {"transform": [{"filter": "utcmonth(datum.date) == 7 && utcdate(datum.date) == 17"}],
     "mark": {"type": "text", "text": "75.00", "dx": 192, "align": "left", "baseline": "middle", "color": "#131722"},
     "encoding": {"x": {"field": "date", "type": "temporal", "axis": null}, "y": {"datum": 75, "type": "quantitative", "axis": null}}},
    {"transform": [{"filter": "utcmonth(datum.date) == 7 && utcdate(datum.date) == 17"}],
     "mark": {"type": "text", "text": "50.00", "dx": 192, "align": "left", "baseline": "middle", "color": "#131722"},
     "encoding": {"x": {"field": "date", "type": "temporal", "axis": null}, "y": {"datum": 50, "type": "quantitative", "axis": null}}},
    {"transform": [{"filter": "utcmonth(datum.date) == 7 && utcdate(datum.date) == 17"}],
     "mark": {"type": "text", "text": "25.00", "dx": 192, "align": "left", "baseline": "middle", "color": "#131722"},
     "encoding": {"x": {"field": "date", "type": "temporal", "axis": null}, "y": {"datum": 25, "type": "quantitative", "axis": null}}},

    {"transform": [{"filter": "utcmonth(datum.date) == 7 && utcdate(datum.date) == 17"}],
     "mark": {"type": "rect", "fill": "#7e57c2", "cornerRadiusTopRight": 3, "cornerRadiusBottomRight": 3, "xOffset": 176, "x2Offset": 262},
     "encoding": {"x": {"field": "date", "type": "temporal", "axis": null}, "x2": {"field": "date"}, "y": {"datum": 92.46, "type": "quantitative", "axis": null}, "y2": {"datum": 79.76}}},
    {"transform": [{"filter": "utcmonth(datum.date) == 7 && utcdate(datum.date) == 17"}],
     "mark": {"type": "rect", "fill": "#fdd835", "cornerRadiusTopRight": 3, "cornerRadiusBottomRight": 3, "xOffset": 176, "x2Offset": 262},
     "encoding": {"x": {"field": "date", "type": "temporal", "axis": null}, "x2": {"field": "date"}, "y": {"datum": 62.3, "type": "quantitative", "axis": null}, "y2": {"datum": 49.21}}},
    {"transform": [{"filter": "utcmonth(datum.date) == 7 && utcdate(datum.date) == 17"}],
     "mark": {"type": "text", "text": "85.64", "dx": 192, "align": "left", "baseline": "middle", "color": "white"},
     "encoding": {"x": {"field": "date", "type": "temporal", "axis": null}, "y": {"datum": 85.7, "type": "quantitative", "axis": null}}},
    {"transform": [{"filter": "utcmonth(datum.date) == 7 && utcdate(datum.date) == 17"}],
     "mark": {"type": "text", "text": "56.13", "dx": 192, "align": "left", "baseline": "middle", "color": "#131722"},
     "encoding": {"x": {"field": "date", "type": "temporal", "axis": null}, "y": {"datum": 55.56, "type": "quantitative", "axis": null}}},

    {"transform": [{"filter": "utcmonth(datum.date) == 5 && utcdate(datum.date) == 1"}],
     "mark": {"type": "text", "text": "Jun", "align": "center", "baseline": "middle", "color": "#131722"},
     "encoding": {"x": {"field": "date", "type": "temporal", "axis": null}, "y": {"datum": 10.71, "type": "quantitative", "axis": null}}},
    {"transform": [{"filter": "utcmonth(datum.date) == 6 && utcdate(datum.date) == 1"}],
     "mark": {"type": "text", "text": "Jul", "align": "center", "baseline": "middle", "color": "#131722"},
     "encoding": {"x": {"field": "date", "type": "temporal", "axis": null}, "y": {"datum": 10.71, "type": "quantitative", "axis": null}}},
    {"transform": [{"filter": "utcmonth(datum.date) == 7 && utcdate(datum.date) == 1"}],
     "mark": {"type": "text", "text": "Aug", "align": "center", "baseline": "middle", "color": "#131722"},
     "encoding": {"x": {"field": "date", "type": "temporal", "axis": null}, "y": {"datum": 10.71, "type": "quantitative", "axis": null}}},
    {"transform": [{"filter": "utcmonth(datum.date) == 7 && utcdate(datum.date) == 17"}],
     "mark": {"type": "text", "text": "Sep", "dx": 160, "align": "center", "baseline": "middle", "color": "#131722"},
     "encoding": {"x": {"field": "date", "type": "temporal", "axis": null}, "y": {"datum": 10.71, "type": "quantitative", "axis": null}}},

    {"transform": [{"filter": "utcmonth(datum.date) == 7 && utcdate(datum.date) == 17"}],
     "mark": {"type": "rule", "color": "#e0e3eb", "strokeWidth": 1, "xOffset": 358},
     "encoding": {"x": {"field": "date", "type": "temporal", "axis": null}, "y": {"datum": 103.6, "type": "quantitative", "axis": null}, "y2": {"datum": 0.79}}},
    {"transform": [{"filter": "utcmonth(datum.date) == 7 && utcdate(datum.date) == 17"}],
     "mark": {"type": "rule", "color": "#e0e3eb", "strokeWidth": 1, "xOffset": 175, "x2Offset": 358},
     "encoding": {"x": {"field": "date", "type": "temporal", "axis": null}, "x2": {"field": "date"}, "y": {"datum": 22.2, "type": "quantitative", "axis": null}}},
    {"transform": [{"filter": "utcmonth(datum.date) == 4 && utcdate(datum.date) == 9"}],
     "mark": {"type": "rule", "color": "#e0e3eb", "strokeWidth": 1, "xOffset": -10, "x2Offset": 1426},
     "encoding": {"x": {"field": "date", "type": "temporal", "axis": null}, "x2": {"field": "date"}, "y": {"datum": 0.79, "type": "quantitative", "axis": null}}},
    {"transform": [{"filter": "utcmonth(datum.date) == 4 && utcdate(datum.date) == 9"}],
     "mark": {"type": "rule", "color": "#e0e3eb", "strokeWidth": 1, "xOffset": -10},
     "encoding": {"x": {"field": "date", "type": "temporal", "axis": null}, "y": {"datum": 22.2, "type": "quantitative", "axis": null}, "y2": {"datum": 0.79}}},
    {"transform": [{"filter": "utcmonth(datum.date) == 4 && utcdate(datum.date) == 9"}],
     "mark": {"type": "rule", "color": "#e0e3eb", "strokeWidth": 1, "xOffset": 1243},
     "encoding": {"x": {"field": "date", "type": "temporal", "axis": null}, "y": {"datum": 22.2, "type": "quantitative", "axis": null}, "y2": {"datum": 0.79}}},
    {"transform": [{"filter": "utcmonth(datum.date) == 4 && utcdate(datum.date) == 9"}],
     "mark": {"type": "point", "filled": true, "color": "#131722", "opacity": 1, "size": 3600, "xOffset": 23, "shape": "M-1,-0.5L-0.274,-0.5L-0.274,0.5L-0.58,0.5L-0.58,-0.082L-1,-0.082Z M0.237,-0.264L0.192,-0.155L0.083,-0.11L-0.026,-0.155L-0.071,-0.264L-0.026,-0.373L0.083,-0.418L0.192,-0.373Z M0.338,0.5L0.656,-0.5L1,-0.5L0.682,0.5Z"},
     "encoding": {"x": {"field": "date", "type": "temporal", "axis": null}, "y": {"datum": -23.81, "type": "quantitative", "axis": null}}},
    {"transform": [{"filter": "utcmonth(datum.date) == 4 && utcdate(datum.date) == 9"}],
     "mark": {"type": "text", "text": "TradingView", "dx": 68, "dy": 0, "align": "left", "baseline": "alphabetic", "color": "#131722", "font": "Roboto", "fontSize": 43, "fontWeight": "bold"},
     "encoding": {"x": {"field": "date", "type": "temporal", "axis": null}, "y": {"datum": -29.76, "type": "quantitative", "axis": null}}}
  ]
}
]
}
